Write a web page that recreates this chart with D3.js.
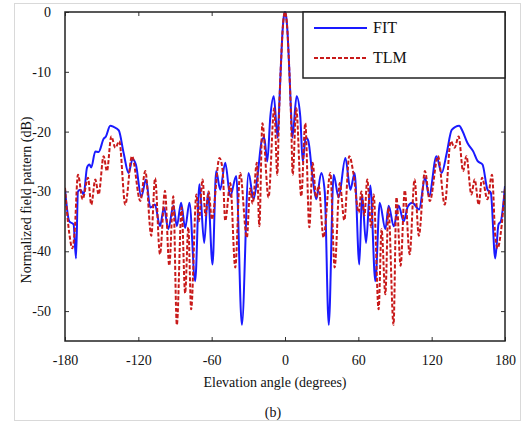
<!DOCTYPE html>
<html>
<head>
<meta charset="utf-8">
<script src="https://cdn.jsdelivr.net/npm/d3@7"></script>
<style>
  body { margin: 0; background: #fff; }
  svg { display: block; }
  text { font-family: "Liberation Serif", "Times New Roman", serif; fill: #111; }
</style>
</head>
<body>
<svg id="chart" width="523" height="422"></svg>
<script>
// values (elevation angle in degrees, pattern in dB)
var fitAngle = [-180, -176.5, -173, -171, -169.4, -167.5, -164.7, -162, -160, -158.5, -155.2, -152.5,
  -148.4, -146.5, -143, -140.2, -136, -132, -128, -124.7, -122, -117.6, -113.7, -110.2, -106.4,
  -102.3, -99, -95.5, -91.3, -88.5, -85, -81.7, -78.2, -73.5, -70, -66.1, -63, -59.3, -56.3, -53,
  -48.9, -44.8, -39.9, -35.3, -29.8, -25.7, -22.5, -19, -17, -14.5, -12, -9.2, -6, -5, -4, -3, -2, -1,
  0, 1, 2, 3, 4, 5, 6, 9.5, 12.5, 14.5, 17, 19, 22.5, 25.6, 29.7, 32.5, 35.8, 39.8, 43.9, 49.4,
  53.5, 57, 60.8, 63, 66.3, 69.8, 73.9, 77.5, 82.1, 84.8, 89, 93, 97.1, 100.5, 104.2, 109.7, 114.6,
  117.9, 123.9, 128.2, 132.3, 136.4, 142.5, 145.2, 149.3, 154, 157.5, 161.6, 165.7, 168.4, 172,
  174.7, 176.6, 180]
var fitDb = [-29.7, -35, -35.5, -41.2, -30, -29.7, -30.5, -26, -25.5, -26, -23.3, -23.4,
  -21.2, -20.8, -19, -19.2, -19.8, -23.6, -26.9, -24.6, -25.5, -30.9, -28, -32.7, -32.2,
  -35.8, -32.7, -36.3, -32.4, -35.8, -31.9, -36.1, -31.9, -45, -28.8, -38.6, -30.2, -42.2, -26.6, -29.7,
  -25.2, -30.8, -27.4, -52.3, -26.9, -31.3, -27.5, -21.5, -21, -25, -17.5, -14.1, -21, -17, -12, -7.3, -3.2, -0.8,
  0, -0.8, -3.2, -7.3, -12, -17, -21, -14.1, -17.5, -25, -21, -21.5, -27.5, -31.3, -26.9, -30, -52.3, -27.2, -31, -24.4,
  -29.7, -26.9, -42.2, -30.5, -38.6, -29, -45, -31.9, -36.3, -32.4, -35.8, -32.4, -35, -32.5, -31.9, -33, -27.7,
  -30.8, -24.1, -26.9, -23.6, -19.7, -19, -19.9, -21.9, -23.3, -24.9, -25.5, -29.7, -30.2, -41.2,
  -35.5, -35, -29.1]

var tlmAngle = [-180, -176.5, -174, -172.2, -169.4, -165.6, -161.2, -158.5, -155.2, -152.5, -148.4,
  -145.7, -142.1, -138.8, -135.6, -130.7, -125.2, -118.4, -114.3, -109.4, -106.3, -102.3, -98.2,
  -94.7, -91.4, -88.5, -84.6, -81.7, -79.1, -76.8, -72.5, -70.5, -67.5, -65, -62.5, -59.8, -53.6,
  -51, -48.9, -44.8, -40.7, -36.7, -31.2, -28.5, -26.5, -23, -21, -18.5, -13.5, -8.8, -6.3, -5, -4,
  -3, -2, -1, 0, 1, 2, 3, 4, 5, 6.3, 9.2, 13.3, 16.6, 19.9, 22.6, 25.5, 27.5, 31.5, 37.1, 40.6, 44.8,
  48.5, 52.6, 56, 60.3, 62.5, 65, 67.3, 70.5, 72.5, 76.6, 79, 82.1, 84.6, 88.8, 91.2, 94.6, 98, 102,
  106, 109.5, 114.5, 118.5, 125.2, 130.7, 135.6, 138.8, 142.1, 145.7, 148.4, 152.5, 155.2, 158.5,
  161.2, 165.6, 169.4, 172, 174, 176.5, 180]
var tlmDb = [-29.4, -37, -39.5, -37, -27.2, -31.3, -27.7, -32.2, -28, -30.5, -24.1,
  -26.6, -20.8, -22.7, -21.6, -32.2, -24.1, -31.6, -26.6, -37.4, -27.8, -40.5, -29.9,
  -42.4, -30.8, -52.3, -32.7, -47, -36, -49.7, -30.5, -35, -28, -34, -30, -34.7, -24.4,
  -26.5, -34.9, -28.6, -42.7, -26.9, -37.7, -29.5, -32, -25.2, -35.8, -18.6, -31, -16.1, -27.2, -18, -12,
  -7.3, -3.2, -0.8, 0, -0.8, -3.2, -7.3, -12, -18, -27.2, -16.1, -30.8, -18.6, -36, -25.2, -31, -29, -37.7, -26.9, -42.7, -28.6,
  -34.8, -24.1, -27, -33.5, -30, -34, -28, -36, -30.5, -49.7, -36.3, -47.2, -32.7, -52.3, -31, -42.4, -29.8, -40.5,
  -28, -37.4, -26.6, -31.6, -24.1, -32.2, -21.6, -22.7, -20.8, -26.6, -24.1, -30.5, -28, -32.2,
  -27.7, -31.3, -27.2, -37.4, -39.5, -37, -29.4]

var xTicks = [-180, -120, -60, 0, 60, 120, 180]
var yTicks = [0, -10, -20, -30, -40, -50]

var seriesNames = ["FIT", "TLM"]

// SETUP
var svg = d3.select("#chart")
var mLeft = 65, mRight = 505, mTop = 12, mBottom = 341

var x = d3.scaleLinear().domain([-180, 180]).range([mLeft, mRight])
var y = d3.scaleLinear().domain([-55, 0]).range([mBottom, mTop])

// plain hyphen minus like the original
var fmt = function (d) { return String(d) }

// outer light frame
svg.append("rect")
  .attr("x", 14.5).attr("y", 3.5)
  .attr("width", 506).attr("height", 417)
  .attr("fill", "none")
  .attr("stroke", "#d9d9d9")

// axes with inward ticks, labels only on left / bottom
function styleAxis(g) {
  g.select(".domain").remove()
  g.selectAll(".tick line").attr("stroke", "#333").attr("stroke-width", 1)
  g.selectAll(".tick text").style("font-size", "14px").attr("fill", "#111")
    .style("font-family", "'Liberation Serif', serif")
}

svg.append("g")
  .attr("transform", "translate(0," + mBottom + ")")
  .call(d3.axisBottom(x).tickValues(xTicks).tickFormat(fmt).tickSizeInner(-4).tickSizeOuter(0).tickPadding(14))
  .call(styleAxis)
svg.append("g")
  .attr("transform", "translate(0," + mTop + ")")
  .call(d3.axisTop(x).tickValues(xTicks).tickSizeInner(-4).tickSizeOuter(0).tickFormat(""))
  .call(styleAxis)
svg.append("g")
  .attr("transform", "translate(" + mLeft + ",0)")
  .call(d3.axisLeft(y).tickValues(yTicks).tickFormat(fmt).tickSizeInner(-4).tickSizeOuter(0).tickPadding(14))
  .call(styleAxis)
svg.append("g")
  .attr("transform", "translate(" + mRight + ",0)")
  .call(d3.axisRight(y).tickValues(yTicks).tickSizeInner(-4).tickSizeOuter(0).tickFormat(""))
  .call(styleAxis)

// clip + lines
svg.append("clipPath").attr("id", "plotclip")
  .append("rect").attr("x", mLeft).attr("y", mTop - 2).attr("width", mRight - mLeft).attr("height", mBottom - mTop + 2)

var line = d3.line()
  .x(function (d) { return x(d[0]) })
  .y(function (d) { return y(d[1]) })
  .curve(d3.curveMonotoneX)

var fitData = fitAngle.map(function (a, i) { return [a, fitDb[i]] })
var tlmData = tlmAngle.map(function (a, i) { return [a, tlmDb[i]] })

var plot = svg.append("g").attr("clip-path", "url(#plotclip)")
plot.append("path")
  .datum(fitData)
  .attr("d", line)
  .attr("fill", "none")
  .attr("stroke", "#1a1aff")
  .attr("stroke-width", 2)
plot.append("path")
  .datum(tlmData)
  .attr("d", line)
  .attr("fill", "none")
  .attr("stroke", "#c81a1a")
  .attr("stroke-width", 2)
  .attr("stroke-dasharray", "4,2")

// plot frame
svg.append("rect")
  .attr("x", mLeft).attr("y", mTop)
  .attr("width", mRight - mLeft).attr("height", mBottom - mTop)
  .attr("fill", "none")
  .attr("stroke", "#222")
  .attr("stroke-width", 1.5)

// legend
var lg = svg.append("g")
lg.append("rect")
  .attr("x", 303).attr("y", mTop)
  .attr("width", mRight - 303).attr("height", 66)
  .attr("fill", "#fff")
  .attr("stroke", "#222")
  .attr("stroke-width", 1.5)
lg.selectAll("line.key")
  .data(seriesNames)
  .enter().append("line")
  .attr("class", "key")
  .attr("x1", 314).attr("x2", 367)
  .attr("y1", function (d, i) { return 28 + i * 30 })
  .attr("y2", function (d, i) { return 28 + i * 30 })
  .attr("stroke", function (d, i) { return i == 0 ? "#1a1aff" : "#c81a1a" })
  .attr("stroke-width", 2)
  .attr("stroke-dasharray", function (d, i) { return i == 0 ? null : "4,2" })
lg.selectAll("text.key")
  .data(seriesNames)
  .enter().append("text")
  .attr("class", "key")
  .attr("x", 373)
  .attr("y", function (d, i) { return 33 + i * 30 })
  .style("font-size", "16px")
  .text(function (d) { return d })

// axis titles
svg.append("text")
  .attr("x", 275).attr("y", 387)
  .attr("text-anchor", "middle")
  .style("font-size", "14px")
  .text("Elevation angle (degrees)")
svg.append("text")
  .attr("transform", "translate(31,200) rotate(-90)")
  .attr("text-anchor", "middle")
  .style("font-size", "14px")
  .text("Normalized field pattern (dB)")
svg.append("text")
  .attr("x", 273).attr("y", 417)
  .attr("text-anchor", "middle")
  .style("font-size", "14px")
  .text("(b)")
</script>
</body>
</html>
